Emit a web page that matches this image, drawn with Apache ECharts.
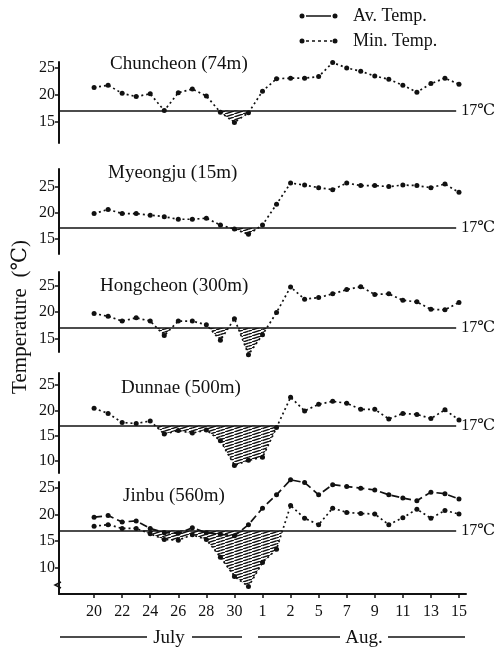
<!DOCTYPE html>
<html>
<head>
<meta charset="utf-8">
<script src="https://cdn.jsdelivr.net/npm/echarts@6/dist/echarts.min.js"></script>
<style>
  html, body { margin: 0; padding: 0; background: #fff; }
  #chart { width: 501px; height: 650px; }
</style>
</head>
<body>
<div id="chart"></div>
<script>
// ---- data (July 20 ... Aug 15, one value per day) ----
const days = ['Jul 20','Jul 21','Jul 22','Jul 23','Jul 24','Jul 25','Jul 26','Jul 27','Jul 28','Jul 29','Jul 30','Jul 31',
  'Aug 1','Aug 2','Aug 3','Aug 4','Aug 5','Aug 6','Aug 7','Aug 8','Aug 9','Aug 10','Aug 11','Aug 12','Aug 13','Aug 14','Aug 15'];
const xTickValues = [0, 2, 4, 6, 8, 10, 12, 14, 16, 18, 20, 22, 24, 26];
const xTickLabels = ['20', '22', '24', '26', '28', '30', '1', '2', '5', '7', '9', '11', '13', '15'];

const stations = ['Chuncheon (74m)', 'Myeongju (15m)', 'Hongcheon (300m)', 'Dunnae (500m)', 'Jinbu (560m)'];

const chuncheonMin = [21.3, 21.7, 20.2, 19.6, 20.1, 17.0, 20.3, 21.0, 19.7, 16.7, 14.8, 16.6, 20.6, 22.9, 23.0, 23.0, 23.3, 25.9, 24.9, 24.3, 23.4, 22.8, 21.7, 20.4, 22.0, 23.0, 21.9];
const myeongjuMin = [19.8, 20.6, 19.8, 19.8, 19.5, 19.2, 18.7, 18.7, 18.9, 17.6, 16.8, 15.8, 17.6, 21.6, 25.7, 25.3, 24.8, 24.4, 25.7, 25.2, 25.2, 25.0, 25.3, 25.2, 24.8, 25.5, 23.9];
const hongcheonMin = [19.7, 19.2, 18.3, 18.9, 18.3, 15.6, 18.3, 18.3, 17.6, 14.7, 18.75, 12.0, 15.75, 19.9, 24.7, 22.4, 22.7, 23.4, 24.2, 24.75, 23.3, 23.4, 22.2, 21.9, 20.5, 20.4, 21.8];
const dunnaeMin = [20.4, 19.4, 17.6, 17.4, 17.9, 15.3, 16.0, 15.5, 16.1, 14.0, 9.1, 10.1, 10.7, 16.6, 22.6, 19.9, 21.2, 21.8, 21.4, 20.2, 20.2, 18.3, 19.4, 19.2, 18.4, 20.1, 18.1];
const jinbuMin = [17.8, 18.1, 17.4, 17.4, 16.4, 15.3, 15.2, 16.2, 15.3, 12.0, 8.4, 6.5, 11.0, 13.5, 21.7, 19.3, 18.1, 21.2, 20.4, 20.2, 20.1, 18.1, 19.4, 21.0, 19.3, 20.75, 20.1];
const jinbuAv = [19.5, 19.8, 18.6, 18.8, 17.4, 16.6, 16.5, 17.5, 16.6, 16.3, 16.0, 18.1, 21.2, 23.7, 26.5, 26.0, 23.7, 25.6, 25.25, 24.95, 24.6, 23.7, 23.1, 22.6, 24.2, 23.9, 22.9];

const threshold = 17;
const yTicksA = [15, 20, 25];
const yTicksB = [10, 15, 20, 25];

// ---- layout / style ----
const FONT = "'Liberation Serif', 'DejaVu Serif', serif";
const INK = '#111';
const panels = [
  { min: chuncheonMin, av: null, top: 62, height: 81, yMin: 11, yMax: 26, ticks: yTicksA, tLeft: 110, tTop: 55 },
  { min: myeongjuMin, av: null, top: 169, height: 85, yMin: 12, yMax: 28.4, ticks: yTicksA, tLeft: 108, tTop: 164 },
  { min: hongcheonMin, av: null, top: 272, height: 80, yMin: 12.5, yMax: 27.5, ticks: yTicksA, tLeft: 100, tTop: 277 },
  { min: dunnaeMin, av: null, top: 373, height: 100, yMin: 7.6, yMax: 27.4, ticks: yTicksB, tLeft: 121, tTop: 379 },
  { min: jinbuMin, av: jinbuAv, top: 482, height: 112, yMin: 5.1, yMax: 26.1, ticks: yTicksB, tLeft: 123, tTop: 487 }
];
const xMin = -2.5, xMax = 26.5, lineEnd = 25.8;

// hatch pattern
const pc = document.createElement('canvas');
pc.width = 9; pc.height = 3;
const g = pc.getContext('2d');
g.strokeStyle = INK; g.lineWidth = 1.4;
g.beginPath();
[-9, 0, 9].forEach(dx => { g.moveTo(dx, 3); g.lineTo(dx + 9, 0); });
g.stroke();
const hatch = { image: pc, repeat: 'repeat' };

const chart = echarts.init(document.getElementById('chart'), null, { renderer: 'canvas' });

const grid = [], xAxis = [], yAxis = [], series = [], title = [];
panels.forEach((p, k) => {
  const last = k === panels.length - 1;
  grid.push({ left: 59, width: 407, top: p.top, height: p.height });
  xAxis.push({
    type: 'value', gridIndex: k, min: xMin, max: xMax, show: last,
    splitLine: { show: false },
    axisLine: { show: last, onZero: false, lineStyle: { color: INK, width: 2 } },
    axisTick: { show: last, customValues: xTickValues, length: 4, lineStyle: { color: INK, width: 1.5 } },
    axisLabel: { show: last, customValues: xTickValues, margin: 10, color: INK, fontSize: 16, fontFamily: FONT,
      formatter: v => xTickLabels[xTickValues.indexOf(v)] }
  });
  yAxis.push({
    type: 'value', gridIndex: k, min: p.yMin, max: p.yMax,
    splitLine: { show: false },
    axisLine: { show: true, onZero: false, lineStyle: { color: INK, width: 2 } },
    axisTick: { show: true, customValues: p.ticks, length: 4, lineStyle: { color: INK, width: 1.5 } },
    axisLabel: { customValues: p.ticks, margin: 4, color: INK, fontSize: 16, fontFamily: FONT }
  });
  title.push({ text: stations[k], left: p.tLeft, top: p.tTop, padding: 0,
    textStyle: { fontFamily: FONT, fontSize: 19, fontWeight: 'normal', color: INK } });

  const vals = p.min;
  // hatched area below 17 °C
  series.push({
    type: 'custom', xAxisIndex: k, yAxisIndex: k, silent: true, clip: false, z: 1,
    data: vals.slice(0, -1).map((v, i) => [i, v, vals[i + 1]]),
    encode: { x: 0, y: 1 },
    renderItem: (params, api) => {
      const i = api.value(0), v0 = api.value(1), v1 = api.value(2);
      if (v0 >= threshold && v1 >= threshold) return null;
      const c = (x, y) => api.coord([x, y]);
      let pts;
      if (v0 < threshold && v1 < threshold) {
        pts = [c(i, threshold), c(i, v0), c(i + 1, v1), c(i + 1, threshold)];
      } else if (v0 < threshold) {
        const t = (threshold - v0) / (v1 - v0);
        pts = [c(i, threshold), c(i, v0), c(i + t, threshold)];
      } else {
        const t = (threshold - v0) / (v1 - v0);
        pts = [c(i + t, threshold), c(i + 1, v1), c(i + 1, threshold)];
      }
      return { type: 'polygon', shape: { points: pts }, style: { fill: hatch, stroke: null } };
    }
  });
  series.push({
    name: 'Min. Temp.', type: 'line', xAxisIndex: k, yAxisIndex: k, clip: false, z: 3,
    data: vals.map((v, i) => [i, v]),
    symbol: 'circle', symbolSize: 5, showSymbol: true,
    itemStyle: { color: INK },
    lineStyle: { color: INK, width: 1.7, type: [2, 3] },
    markLine: {
      silent: true, symbol: ['none', 'none'], animation: false,
      lineStyle: { color: INK, width: 1.6, type: 'solid' },
      label: { show: true, position: 'end', formatter: '17℃', color: INK, fontSize: 16, fontFamily: FONT, distance: 5 },
      data: [[{ coord: [xMin, threshold] }, { coord: [lineEnd, threshold] }]]
    }
  });
  if (p.av) {
    series.push({
      name: 'Av. Temp.', type: 'line', xAxisIndex: k, yAxisIndex: k, clip: false, z: 3,
      data: p.av.map((v, i) => [i, v]),
      symbol: 'circle', symbolSize: 5,
      itemStyle: { color: INK },
      lineStyle: { color: INK, width: 1.7, type: [8, 4] }
    });
  }
});

const txt = (text, x, y, size, align) => ({
  type: 'text', x, y, silent: true,
  style: { text, fill: INK, font: `${size}px ${FONT}`, align: align || 'left', verticalAlign: 'middle' }
});
const seg = (x1, y1, x2, y2, dash) => ({
  type: 'line', silent: true, shape: { x1, y1, x2, y2 },
  style: { stroke: INK, lineWidth: 1.5, lineDash: dash || null }
});
const dot = (cx, cy) => ({ type: 'circle', silent: true, shape: { cx, cy, r: 2.5 }, style: { fill: INK } });

const graphic = [
  // legend
  dot(302, 16), seg(306, 16, 331, 16), dot(335, 16), txt('Av. Temp.', 353, 16, 18),
  dot(302, 41), seg(306, 41, 332, 41, [3, 3]), dot(335, 41), txt('Min. Temp.', 353, 41, 18),
  // y title
  { type: 'text', x: 20, y: 317, rotation: Math.PI / 2, silent: true,
    style: { text: 'Temperature  (℃)', fill: INK, font: `21px ${FONT}`, align: 'center', verticalAlign: 'middle' } },
  // month labels
  seg(60, 637, 147, 637), txt('July', 169, 638, 19, 'center'), seg(192, 637, 242, 637),
  seg(258, 637, 340, 637), txt('Aug.', 364, 638, 19, 'center'), seg(388, 637, 465, 637),
  // axis break mark
  { type: 'polyline', silent: true, shape: { points: [[61, 582], [55, 585], [61, 588]] }, style: { stroke: INK, lineWidth: 1.5, fill: null } }
];

chart.setOption({
  animation: false,
  backgroundColor: '#fff',
  title, grid, xAxis, yAxis, series, graphic
});
</script>
</body>
</html>
